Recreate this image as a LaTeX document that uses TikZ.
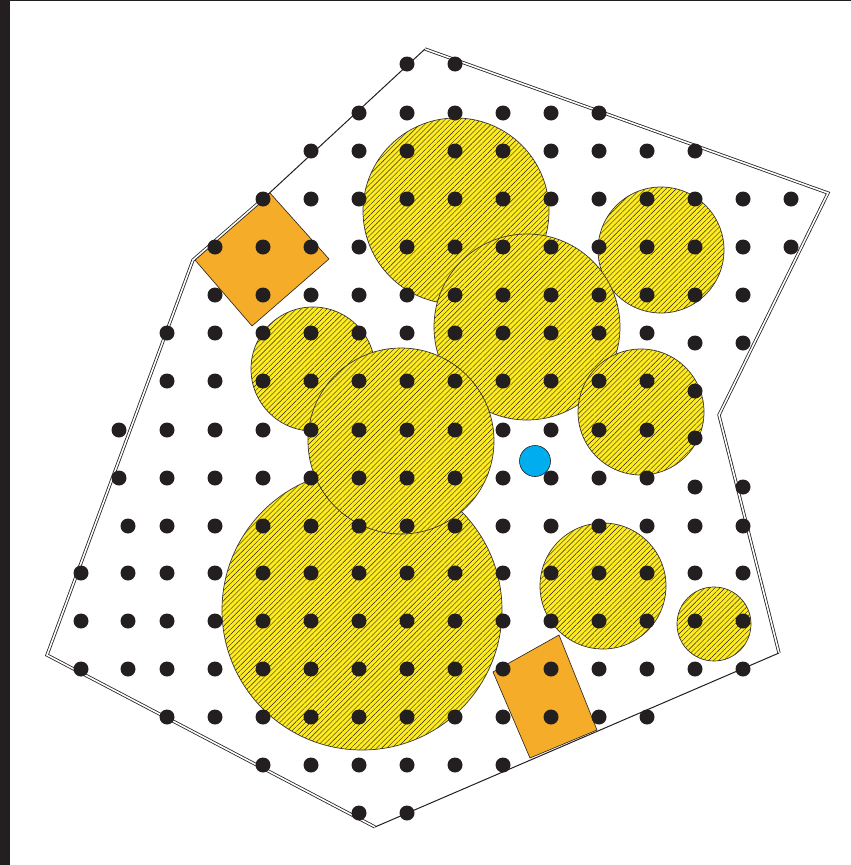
\documentclass[tikz,border=0pt]{standalone}
\usetikzlibrary{patterns.meta}
\definecolor{ink}{RGB}{35,31,32}
\definecolor{yel}{RGB}{255,236,30}
\definecolor{orng}{RGB}{244,172,41}
\definecolor{cyn}{RGB}{0,174,239}
\begin{document}
\begin{tikzpicture}[x=1pt,y=-1pt,
  hatchdisk/.style={preaction={fill=yel}, pattern={Lines[angle=45,distance=3.6pt,line width=0.4pt]}, pattern color=ink, draw=ink!90, line width=0.7pt},
  block/.style={fill=orng, draw=ink, line width=0.6pt},
  dbl/.style={draw=ink, double=white, double distance=1.6pt, line width=0.8pt, line join=miter},
  sgl/.style={draw=ink, line width=1pt},
  dot/.style={fill=ink},
  marker/.style={fill=cyn, draw=ink, line width=0.6pt}]
\useasboundingbox (0,0) rectangle (851,865);
\fill[white] (0,0) rectangle (851,865);
\fill[ink] (0,0) rectangle (10,865);
\fill[ink] (0,0) rectangle (851,1.2);
% orange blocks
\draw[block] (270,193) -- (329,259) -- (252,326) -- (195,260) -- cycle;
\draw[block] (559,635) -- (597,730) -- (530,758) -- (493,672) -- cycle;
% hatched circles
\path[hatchdisk] (456,211) circle[radius=93pt];
\path[hatchdisk] (661,250) circle[radius=63pt];
\path[hatchdisk] (313,369) circle[radius=62pt];
\path[hatchdisk] (527,327) circle[radius=93pt];
\path[hatchdisk] (641,412) circle[radius=63pt];
\path[hatchdisk] (362,610) circle[radius=140pt];
\path[hatchdisk] (401,441) circle[radius=93pt];
\path[hatchdisk] (603,586) circle[radius=63pt];
\path[hatchdisk] (714,624) circle[radius=37pt];
% blue marker
\path[marker] (535,461) circle[radius=15.5pt];
% boundary
\draw[dbl] (263,199) -- (193,260) -- (47,655) -- (375,827);
\draw[dbl] (425,49) -- (828,193) -- (719,415) -- (779,653);
\draw[sgl] (779,653) -- (375,827);
\draw[sgl] (263,199) -- (425,49);
% dots
\foreach \y/\xs in {64/{407,455}, 113/{359,407,...,599}, 151/{311,359,...,695},
  199/{263,311,...,791}, 247/{215,263,...,791}, 295/{215,263,...,743},
  333/{167,215,...,647}, 381/{167,215,...,647}, 430/{119,167,...,647},
  478/{119,167,...,647}, 526/{128,167,215,...,743}, 573/{81,128,167,215,...,743},
  621/{81,128,167,215,...,743}, 669/{81,128,167,215,...,743},
  717/{167,215,...,647}, 765/{263,311,...,503}, 813/{359,407}}
  \foreach \x in \xs \fill[dot] (\x,\y) circle[radius=7.5pt];
\foreach \x/\y in {695/343,743/343,695/391,695/438,695/487,743/487}
  \fill[dot] (\x,\y) circle[radius=7.5pt];
\end{tikzpicture}
\end{document}
